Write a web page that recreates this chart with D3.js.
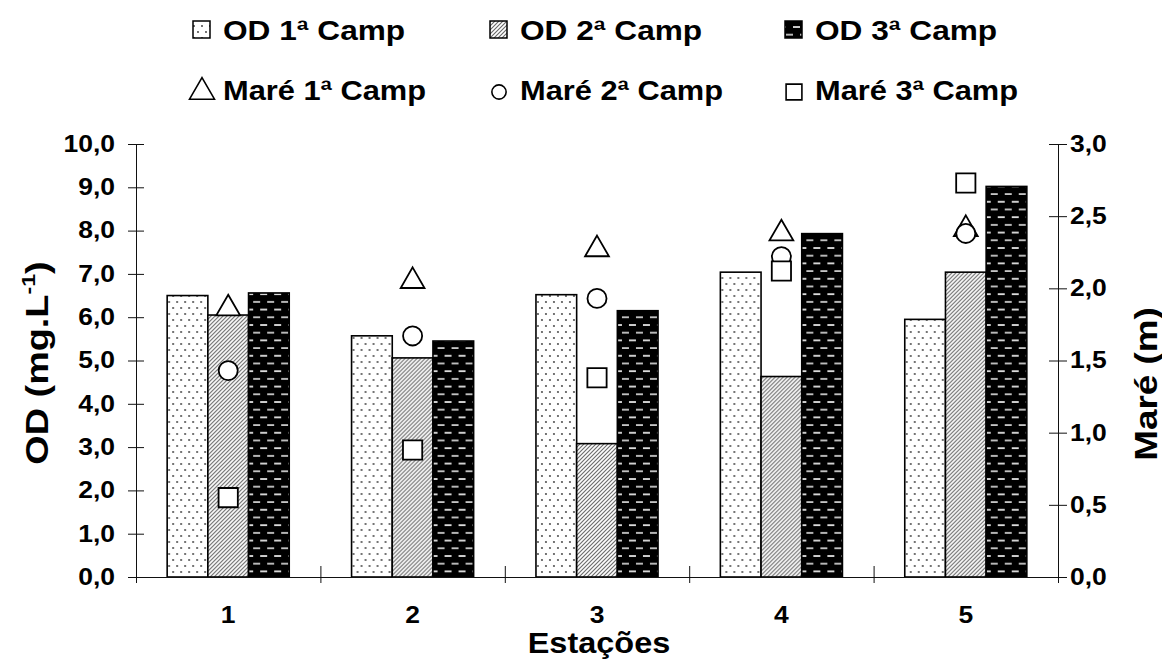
<!DOCTYPE html>
<html>
<head>
<meta charset="utf-8">
<script src="https://cdn.jsdelivr.net/npm/d3@7"></script>
<style>
  body { margin: 0; background: #fff; }
  text { font-family: "Liberation Sans", Arial, sans-serif; font-weight: bold; fill: #000; }
</style>
</head>
<body>
<script>
// data
var stations = ["1", "2", "3", "4", "5"];
var od1 = [6.5, 5.57, 6.52, 7.04, 5.95];
var od2 = [6.05, 5.06, 3.08, 4.63, 7.04];
var od3 = [6.56, 5.45, 6.15, 7.93, 9.02];
var mare1 = [1.86, 2.05, 2.27, 2.38, 2.41];
var mare2 = [1.43, 1.67, 1.93, 2.22, 2.38];
var mare3 = [0.55, 0.88, 1.38, 2.12, 2.73];
var odTicks = [0, 1, 2, 3, 4, 5, 6, 7, 8, 9, 10];
var mareTicks = [0, 0.5, 1, 1.5, 2, 2.5, 3];
var barNames = ["OD 1ª Camp", "OD 2ª Camp", "OD 3ª Camp"];
var markNames = ["Maré 1ª Camp", "Maré 2ª Camp", "Maré 3ª Camp"];

function main(){
    var canvasWidth = 1162;
    var canvasHeight = 659;
    var margin = {top: 144, right: 104, bottom: 82, left: 136};

    var svg = d3.select("body").append("svg")
        .attr("width", canvasWidth)
        .attr("height", canvasHeight);

    var width = canvasWidth - margin.left - margin.right;
    var height = canvasHeight - margin.top - margin.bottom;

    var locale = d3.formatLocale({decimal: ",", thousands: ".", grouping: [3], currency: ["", ""]});
    var fmt = locale.format(".1f");

    // horizontal widening of text, the reference glyphs are a bit wide
    function widen(sel, k){
        sel.each(function(){
            var t = d3.select(this);
            var x = +t.attr("x") || 0, y = +t.attr("y") || 0;
            t.attr("x", 0).attr("y", 0)
             .attr("transform", "translate(" + x + "," + y + ") scale(" + k + ",1)");
        });
    }

    // patterns for the bars
    var defs = svg.append("defs");
    var p1 = defs.append("pattern").attr("id", "pat1").attr("patternUnits", "userSpaceOnUse")
        .attr("width", 8).attr("height", 12);
    p1.append("rect").attr("width", 8).attr("height", 12).attr("fill", "#fff");
    p1.append("circle").attr("cx", 2).attr("cy", 2).attr("r", 0.9).attr("fill", "#333");
    p1.append("circle").attr("cx", 6).attr("cy", 8).attr("r", 0.9).attr("fill", "#333");

    var p2 = defs.append("pattern").attr("id", "pat2").attr("patternUnits", "userSpaceOnUse")
        .attr("width", 4).attr("height", 4);
    p2.append("rect").attr("width", 4).attr("height", 4).attr("fill", "#fff");
    p2.append("path").attr("d", "M-1,1 l2,-2 M0,4 l4,-4 M3,5 l2,-2")
        .attr("stroke", "#666").attr("stroke-width", 1.1);

    var p3 = defs.append("pattern").attr("id", "pat3").attr("patternUnits", "userSpaceOnUse")
        .attr("width", 14).attr("height", 15.4);
    p3.append("rect").attr("width", 14).attr("height", 15.4).attr("fill", "#000");
    p3.append("rect").attr("x", 2).attr("y", 3).attr("width", 7).attr("height", 1.8).attr("fill", "#c8c8c8");
    p3.append("rect").attr("x", 9).attr("y", 10.7).attr("width", 7).attr("height", 1.8).attr("fill", "#e0e0e0");
    p3.append("rect").attr("x", -5).attr("y", 10.7).attr("width", 7).attr("height", 1.8).attr("fill", "#e0e0e0");

    var fills = ["url(#pat1)", "url(#pat2)", "url(#pat3)"];

    var x0 = d3.scaleBand().domain(stations).range([0, width])
        .paddingInner(0.338).paddingOuter(0.169);
    var x1 = d3.scaleBand().domain([0, 1, 2]).range([0, x0.bandwidth()]);
    var xEdge = d3.scaleLinear().domain([0, stations.length]).range([0, width]);
    var yScale = d3.scaleLinear().domain([0, 10]).range([height, 0]);
    var y2Scale = d3.scaleLinear().domain([0, 3]).range([height, 0]);

    var g = svg.append("g")
        .attr("transform", "translate(" + margin.left + "," + margin.top + ")");

    // bars
    var barSeries = [od1, od2, od3];
    var rows = stations.map(function(s, i){
        return barSeries.map(function(v, j){ return {st: s, j: j, v: v[i]}; });
    });
    g.selectAll(".grp")
        .data(rows)
        .enter().append("g")
        .attr("class", "grp")
        .attr("transform", function(d){ return "translate(" + x0(d[0].st) + ",0)"; })
        .selectAll("rect")
        .data(function(d){ return d; })
        .enter().append("rect")
        .attr("x", function(d){ return x1(d.j); })
        .attr("y", function(d){ return yScale(d.v); })
        .attr("width", x1.bandwidth())
        .attr("height", function(d){ return height - yScale(d.v); })
        .attr("fill", function(d){ return fills[d.j]; })
        .attr("stroke", "#000")
        .attr("stroke-width", 1.6);

    // tide markers
    var symTypes = [d3.symbolTriangle, d3.symbolCircle, d3.symbolSquare];
    var symSizes = [245, 285, 370];
    var markSeries = [mare1, mare2, mare3];
    markSeries.forEach(function(ser, k){
        g.selectAll(".m" + k)
            .data(ser)
            .enter().append("path")
            .attr("class", "m" + k)
            .attr("d", d3.symbol().type(symTypes[k]).size(symSizes[k]))
            .attr("transform", function(d, i){
                return "translate(" + (x0(stations[i]) + x0.bandwidth() / 2) + "," + y2Scale(d) + ")";
            })
            .attr("fill", "#fff")
            .attr("stroke", "#000")
            .attr("stroke-width", 1.8);
    });

    // left axis
    var yAxis = g.append("g")
        .call(d3.axisLeft(yScale).tickValues(odTicks).tickFormat(fmt).tickSize(8).tickSizeOuter(0).tickPadding(13));
    yAxis.select(".domain").attr("stroke", "#111");
    yAxis.selectAll(".tick line").attr("x1", 8).attr("stroke", "#111");
    yAxis.selectAll("text").attr("font-size", "23px");
    widen(yAxis.selectAll("text"), 1.15);

    // right axis
    var y2Axis = g.append("g")
        .attr("transform", "translate(" + width + ",0)")
        .call(d3.axisRight(y2Scale).tickValues(mareTicks).tickFormat(fmt).tickSize(9).tickSizeOuter(0).tickPadding(3));
    y2Axis.select(".domain").attr("stroke", "#111");
    y2Axis.selectAll(".tick line").attr("x1", -9).attr("stroke", "#111");
    y2Axis.selectAll("text").attr("font-size", "23px").attr("text-anchor", "start");
    widen(y2Axis.selectAll("text"), 1.15);

    // bottom axis: line with boundary ticks, labels at the station centres
    var xEdges = g.append("g")
        .attr("transform", "translate(0," + height + ")")
        .call(d3.axisBottom(xEdge).tickValues(d3.range(stations.length + 1)).tickFormat("").tickSize(6).tickSizeOuter(0));
    xEdges.select(".domain").attr("stroke", "#111");
    xEdges.selectAll(".tick line").attr("y1", -11).attr("stroke", "#111");

    var xAxis = g.append("g")
        .attr("transform", "translate(0," + height + ")")
        .call(d3.axisBottom(x0).tickSize(0));
    xAxis.select(".domain").remove();
    xAxis.selectAll("text").attr("font-size", "23px").attr("y", 46).attr("dy", null);
    widen(xAxis.selectAll("text"), 1.15);

    // axis titles
    svg.append("text")
        .attr("text-anchor", "middle")
        .attr("font-size", "29px")
        .attr("transform", "translate(599,653) scale(1.12,1)")
        .text("Estações");

    var lt = svg.append("text")
        .attr("text-anchor", "middle")
        .attr("font-size", "31px")
        .attr("transform", "translate(48,363) rotate(-90) scale(1.22,1)");
    lt.append("tspan").text("OD (mg.L");
    lt.append("tspan").attr("font-size", "19px").attr("dy", -13).text("-1");
    lt.append("tspan").attr("dy", 13).text(")");

    svg.append("text")
        .attr("text-anchor", "middle")
        .attr("font-size", "32px")
        .attr("transform", "translate(1157,384) rotate(-90) scale(1.15,1)")
        .text("Maré (m)");

    // legend
    var colX = [223, 520, 815];
    var leg = svg.append("g");
    barNames.forEach(function(name, k){
        leg.append("rect")
            .attr("x", colX[k] - 30).attr("y", 21)
            .attr("width", 17).attr("height", 17)
            .attr("fill", fills[k]).attr("stroke", "#000").attr("stroke-width", 1.5);
        leg.append("text")
            .attr("font-size", "28px")
            .attr("transform", "translate(" + colX[k] + ",40) scale(1.13,1)")
            .text(name);
    });
    var legSizes = [270, 160, 250];
    markNames.forEach(function(name, k){
        leg.append("path")
            .attr("d", d3.symbol().type(symTypes[k]).size(legSizes[k]))
            .attr("transform", "translate(" + (colX[k] - 21) + ",92)")
            .attr("fill", "#fff").attr("stroke", "#000").attr("stroke-width", 1.6);
        leg.append("text")
            .attr("font-size", "28px")
            .attr("transform", "translate(" + colX[k] + ",100) scale(1.1,1)")
            .text(name);
    });
}
main();
</script>
</body>
</html>
